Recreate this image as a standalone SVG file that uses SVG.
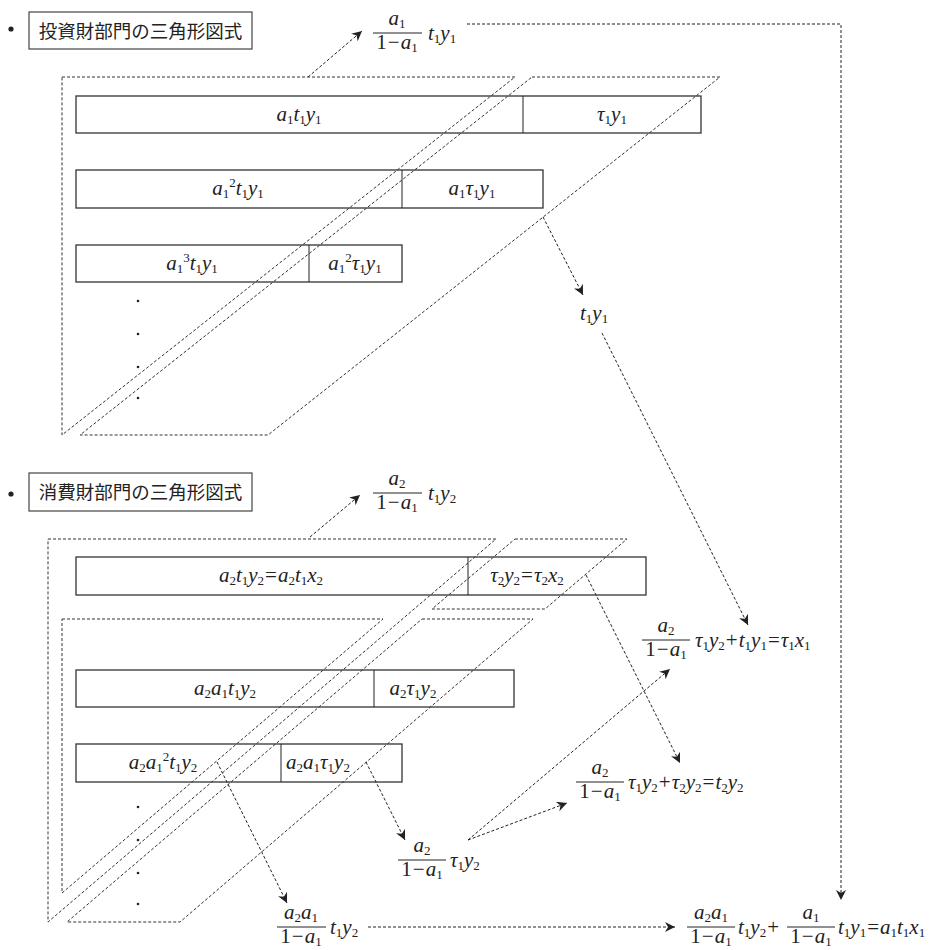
<svg xmlns="http://www.w3.org/2000/svg" width="936" height="950" viewBox="0 0 936 950">
<defs>
<style>
.bg{fill:#fff}
.m{font-family:"Liberation Serif","Times New Roman",serif;font-size:21px;font-style:italic;fill:#222}
.u{font-style:normal}
.sb{font-size:13px;font-style:normal}
.jp{font-family:"Noto Sans CJK JP","Noto Sans CJK SC",sans-serif;font-size:18.5px;fill:#222}
.box{fill:none;stroke:#333;stroke-width:1.3}
.tbox{fill:#fff;stroke:#444;stroke-width:1.2}
.dsh{fill:none;stroke:#333;stroke-width:1;stroke-dasharray:3 2}
.con{fill:none;stroke:#222;stroke-width:1;stroke-dasharray:3 2}
.fl{stroke:#222;stroke-width:1}
.dot{fill:#222}
</style>
<marker id="ah" viewBox="0 0 10 10" refX="10" refY="5" markerWidth="10" markerHeight="10" markerUnits="userSpaceOnUse" orient="auto">
<path d="M0,0 L10,5 L0,10 L3,5 z" fill="#222"/>
</marker>
</defs>
<rect class="bg" x="0" y="0" width="936" height="950"/>

<!-- Titles -->
<g id="title1">
<circle class="dot" cx="11" cy="29" r="2.6"/>
<rect class="tbox" x="29" y="12" width="223" height="37"/>
<text x="140.5" y="37.5" class="jp" text-anchor="middle">投資財部門の三角形図式</text>
</g>
<g id="title2">
<circle class="dot" cx="11" cy="494" r="2.6"/>
<rect class="tbox" x="29" y="473" width="223" height="38"/>
<text x="140.5" y="498.5" class="jp" text-anchor="middle">消費財部門の三角形図式</text>
</g>

<!-- Triangle / parallelogram schema (dashed) -->
<g id="schema">
<polygon class="dsh" points="62,77 515,77 62,435"/>
<polygon class="dsh" points="532,77 720,77 268,435 80,435"/>
<polygon class="dsh" points="48,539 496,539 48,922"/>
<polygon class="dsh" points="515,539 627,539 545,609 432,609"/>
<polygon class="dsh" points="62,619 383,619 62,893"/>
<polygon class="dsh" points="422,619 533,619 180,922 67,922"/>
</g>

<!-- Investment sector rows -->
<g id="row1">
<rect class="box" x="76" y="96" width="625" height="37"/>
<line class="fl" x1="523" y1="96" x2="523" y2="133" stroke-width="1.3"/>
<text x="299" y="121" class="m" text-anchor="middle"><tspan>a</tspan><tspan class="sb" dy="3">1</tspan><tspan dy="-3">t</tspan><tspan class="sb" dy="3">1</tspan><tspan dy="-3">y</tspan><tspan class="sb" dy="3">1</tspan></text>
<text x="612" y="121" class="m" text-anchor="middle"><tspan>τ</tspan><tspan class="sb" dy="3">1</tspan><tspan dy="-3">y</tspan><tspan class="sb" dy="3">1</tspan></text>
</g>
<g id="row2">
<rect class="box" x="76" y="170" width="467" height="38"/>
<line class="fl" x1="402" y1="170" x2="402" y2="208" stroke-width="1.3"/>
<text x="238" y="195" class="m" text-anchor="middle"><tspan>a</tspan><tspan class="sb" dy="3">1</tspan><tspan class="sb" dy="-11">2</tspan><tspan dy="8">t</tspan><tspan class="sb" dy="3">1</tspan><tspan dy="-3">y</tspan><tspan class="sb" dy="3">1</tspan></text>
<text x="472" y="195" class="m" text-anchor="middle"><tspan>a</tspan><tspan class="sb" dy="3">1</tspan><tspan dy="-3">τ</tspan><tspan class="sb" dy="3">1</tspan><tspan dy="-3">y</tspan><tspan class="sb" dy="3">1</tspan></text>
</g>
<g id="row3">
<rect class="box" x="76" y="245" width="326" height="37"/>
<line class="fl" x1="309" y1="245" x2="309" y2="282" stroke-width="1.3"/>
<text x="192" y="270" class="m" text-anchor="middle"><tspan>a</tspan><tspan class="sb" dy="3">1</tspan><tspan class="sb" dy="-11">3</tspan><tspan dy="8">t</tspan><tspan class="sb" dy="3">1</tspan><tspan dy="-3">y</tspan><tspan class="sb" dy="3">1</tspan></text>
<text x="355" y="270" class="m" text-anchor="middle"><tspan>a</tspan><tspan class="sb" dy="3">1</tspan><tspan class="sb" dy="-11">2</tspan><tspan dy="8">τ</tspan><tspan class="sb" dy="3">1</tspan><tspan dy="-3">y</tspan><tspan class="sb" dy="3">1</tspan></text>
</g>
<g id="dots1">
<circle class="dot" cx="138" cy="301" r="1.3"/>
<circle class="dot" cx="138" cy="334" r="1.3"/>
<circle class="dot" cx="138" cy="367" r="1.3"/>
<circle class="dot" cx="138" cy="398" r="1.3"/>
</g>

<!-- Consumption sector rows -->
<g id="row4">
<rect class="box" x="76" y="557" width="570" height="38"/>
<line class="fl" x1="468" y1="557" x2="468" y2="595" stroke-width="1.3"/>
<text x="271" y="582" class="m" text-anchor="middle"><tspan>a</tspan><tspan class="sb" dy="3">2</tspan><tspan dy="-3">t</tspan><tspan class="sb" dy="3">1</tspan><tspan dy="-3">y</tspan><tspan class="sb" dy="3">2</tspan><tspan class="u" dy="-3" dx="1">=</tspan><tspan dx="1">a</tspan><tspan class="sb" dy="3">2</tspan><tspan dy="-3">t</tspan><tspan class="sb" dy="3">1</tspan><tspan dy="-3">x</tspan><tspan class="sb" dy="3">2</tspan></text>
<text x="527" y="582" class="m" text-anchor="middle"><tspan>τ</tspan><tspan class="sb" dy="3">2</tspan><tspan dy="-3">y</tspan><tspan class="sb" dy="3">2</tspan><tspan class="u" dy="-3" dx="1">=</tspan><tspan dx="1">τ</tspan><tspan class="sb" dy="3">2</tspan><tspan dy="-3">x</tspan><tspan class="sb" dy="3">2</tspan></text>
</g>
<g id="row5">
<rect class="box" x="76" y="670" width="438" height="37"/>
<line class="fl" x1="374" y1="670" x2="374" y2="707" stroke-width="1.3"/>
<text x="225" y="695" class="m" text-anchor="middle"><tspan>a</tspan><tspan class="sb" dy="3">2</tspan><tspan dy="-3">a</tspan><tspan class="sb" dy="3">1</tspan><tspan dy="-3">t</tspan><tspan class="sb" dy="3">1</tspan><tspan dy="-3">y</tspan><tspan class="sb" dy="3">2</tspan></text>
<text x="413" y="695" class="m" text-anchor="middle"><tspan>a</tspan><tspan class="sb" dy="3">2</tspan><tspan dy="-3">τ</tspan><tspan class="sb" dy="3">1</tspan><tspan dy="-3">y</tspan><tspan class="sb" dy="3">2</tspan></text>
</g>
<g id="row6">
<rect class="box" x="76" y="744" width="326" height="38"/>
<line class="fl" x1="281" y1="744" x2="281" y2="782" stroke-width="1.3"/>
<text x="163" y="769" class="m" text-anchor="middle"><tspan>a</tspan><tspan class="sb" dy="3">2</tspan><tspan dy="-3">a</tspan><tspan class="sb" dy="3">1</tspan><tspan class="sb" dy="-11">2</tspan><tspan dy="8">t</tspan><tspan class="sb" dy="3">1</tspan><tspan dy="-3">y</tspan><tspan class="sb" dy="3">2</tspan></text>
<text x="318" y="769" class="m" text-anchor="middle"><tspan>a</tspan><tspan class="sb" dy="3">2</tspan><tspan dy="-3">a</tspan><tspan class="sb" dy="3">1</tspan><tspan dy="-3">τ</tspan><tspan class="sb" dy="3">1</tspan><tspan dy="-3">y</tspan><tspan class="sb" dy="3">2</tspan></text>
</g>
<g id="dots2">
<circle class="dot" cx="138" cy="807" r="1.3"/>
<circle class="dot" cx="138" cy="840" r="1.3"/>
<circle class="dot" cx="138" cy="873" r="1.3"/>
<circle class="dot" cx="138" cy="904" r="1.3"/>
</g>

<!-- Formula labels -->
<g id="f-top1">
<text x="397" y="25" class="m" text-anchor="middle"><tspan>a</tspan><tspan class="sb" dy="3">1</tspan></text>
<line class="fl" x1="373" y1="33" x2="422" y2="33"/>
<text x="397" y="49" class="m" text-anchor="middle"><tspan class="u">1</tspan><tspan class="u" dx="1">−</tspan><tspan dx="1">a</tspan><tspan class="sb" dy="3">1</tspan></text>
<text x="428" y="40" class="m"><tspan>t</tspan><tspan class="sb" dy="3">1</tspan><tspan dy="-3">y</tspan><tspan class="sb" dy="3">1</tspan></text>
</g>
<g id="f-top2">
<text x="397" y="485" class="m" text-anchor="middle"><tspan>a</tspan><tspan class="sb" dy="3">2</tspan></text>
<line class="fl" x1="373" y1="493" x2="422" y2="493"/>
<text x="397" y="509" class="m" text-anchor="middle"><tspan class="u">1</tspan><tspan class="u" dx="1">−</tspan><tspan dx="1">a</tspan><tspan class="sb" dy="3">1</tspan></text>
<text x="428" y="500" class="m"><tspan>t</tspan><tspan class="sb" dy="3">1</tspan><tspan dy="-3">y</tspan><tspan class="sb" dy="3">2</tspan></text>
</g>
<g id="f-t1y1">
<text x="580" y="320" class="m"><tspan>t</tspan><tspan class="sb" dy="3">1</tspan><tspan dy="-3">y</tspan><tspan class="sb" dy="3">1</tspan></text>
</g>
<g id="f-tau1x1">
<text x="666" y="632" class="m" text-anchor="middle"><tspan>a</tspan><tspan class="sb" dy="3">2</tspan></text>
<line class="fl" x1="642" y1="640" x2="690" y2="640"/>
<text x="666" y="656" class="m" text-anchor="middle"><tspan class="u">1</tspan><tspan class="u" dx="1">−</tspan><tspan dx="1">a</tspan><tspan class="sb" dy="3">1</tspan></text>
<text x="695" y="647" class="m"><tspan>τ</tspan><tspan class="sb" dy="3">1</tspan><tspan dy="-3">y</tspan><tspan class="sb" dy="3">2</tspan><tspan class="u" dy="-3" dx="1">+</tspan><tspan dx="1">t</tspan><tspan class="sb" dy="3">1</tspan><tspan dy="-3">y</tspan><tspan class="sb" dy="3">1</tspan><tspan class="u" dy="-3" dx="1">=</tspan><tspan dx="1">τ</tspan><tspan class="sb" dy="3">1</tspan><tspan dy="-3">x</tspan><tspan class="sb" dy="3">1</tspan></text>
</g>
<g id="f-t2y2">
<text x="600" y="774" class="m" text-anchor="middle"><tspan>a</tspan><tspan class="sb" dy="3">2</tspan></text>
<line class="fl" x1="576" y1="782" x2="624" y2="782"/>
<text x="600" y="798" class="m" text-anchor="middle"><tspan class="u">1</tspan><tspan class="u" dx="1">−</tspan><tspan dx="1">a</tspan><tspan class="sb" dy="3">1</tspan></text>
<text x="628" y="789" class="m"><tspan>τ</tspan><tspan class="sb" dy="3">1</tspan><tspan dy="-3">y</tspan><tspan class="sb" dy="3">2</tspan><tspan class="u" dy="-3" dx="1">+</tspan><tspan dx="1">τ</tspan><tspan class="sb" dy="3">2</tspan><tspan dy="-3">y</tspan><tspan class="sb" dy="3">2</tspan><tspan class="u" dy="-3" dx="1">=</tspan><tspan dx="1">t</tspan><tspan class="sb" dy="3">2</tspan><tspan dy="-3">y</tspan><tspan class="sb" dy="3">2</tspan></text>
</g>
<g id="f-tau1y2">
<text x="422" y="852" class="m" text-anchor="middle"><tspan>a</tspan><tspan class="sb" dy="3">2</tspan></text>
<line class="fl" x1="398" y1="860" x2="446" y2="860"/>
<text x="422" y="876" class="m" text-anchor="middle"><tspan class="u">1</tspan><tspan class="u" dx="1">−</tspan><tspan dx="1">a</tspan><tspan class="sb" dy="3">1</tspan></text>
<text x="450" y="867" class="m"><tspan>τ</tspan><tspan class="sb" dy="3">1</tspan><tspan dy="-3">y</tspan><tspan class="sb" dy="3">2</tspan></text>
</g>
<g id="f-a2a1">
<text x="301" y="919" class="m" text-anchor="middle"><tspan>a</tspan><tspan class="sb" dy="3">2</tspan><tspan dy="-3">a</tspan><tspan class="sb" dy="3">1</tspan></text>
<line class="fl" x1="277" y1="927" x2="326" y2="927"/>
<text x="301" y="943" class="m" text-anchor="middle"><tspan class="u">1</tspan><tspan class="u" dx="1">−</tspan><tspan dx="1">a</tspan><tspan class="sb" dy="3">1</tspan></text>
<text x="330" y="934" class="m"><tspan>t</tspan><tspan class="sb" dy="3">1</tspan><tspan dy="-3">y</tspan><tspan class="sb" dy="3">2</tspan></text>
</g>
<g id="f-total">
<text x="711" y="919" class="m" text-anchor="middle"><tspan>a</tspan><tspan class="sb" dy="3">2</tspan><tspan dy="-3">a</tspan><tspan class="sb" dy="3">1</tspan></text>
<line class="fl" x1="687" y1="927" x2="735" y2="927"/>
<text x="711" y="943" class="m" text-anchor="middle"><tspan class="u">1</tspan><tspan class="u" dx="1">−</tspan><tspan dx="1">a</tspan><tspan class="sb" dy="3">1</tspan></text>
<text x="738" y="934" class="m"><tspan>t</tspan><tspan class="sb" dy="3">1</tspan><tspan dy="-3">y</tspan><tspan class="sb" dy="3">2</tspan><tspan class="u" dy="-3" dx="1">+</tspan></text>
<text x="811" y="919" class="m" text-anchor="middle"><tspan>a</tspan><tspan class="sb" dy="3">1</tspan></text>
<line class="fl" x1="787" y1="927" x2="835" y2="927"/>
<text x="811" y="943" class="m" text-anchor="middle"><tspan class="u">1</tspan><tspan class="u" dx="1">−</tspan><tspan dx="1">a</tspan><tspan class="sb" dy="3">1</tspan></text>
<text x="838" y="934" class="m"><tspan>t</tspan><tspan class="sb" dy="3">1</tspan><tspan dy="-3">y</tspan><tspan class="sb" dy="3">1</tspan><tspan class="u" dy="-3" dx="1">=</tspan><tspan dx="1">a</tspan><tspan class="sb" dy="3">1</tspan><tspan dy="-3">t</tspan><tspan class="sb" dy="3">1</tspan><tspan dy="-3">x</tspan><tspan class="sb" dy="3">1</tspan></text>
</g>

<!-- Connectors -->
<g id="connectors">
<line class="con" x1="308" y1="77" x2="362" y2="31" marker-end="url(#ah)"/>
<polyline class="con" points="467,24 841,24 841,900" marker-end="url(#ah)"/>
<line class="con" x1="543" y1="217" x2="583" y2="295" marker-end="url(#ah)"/>
<line class="con" x1="602" y1="333" x2="748" y2="625" marker-end="url(#ah)"/>
<line class="con" x1="310" y1="537" x2="360" y2="495" marker-end="url(#ah)"/>
<line class="con" x1="586" y1="575" x2="680" y2="763" marker-end="url(#ah)"/>
<line class="con" x1="217" y1="762" x2="287" y2="903" marker-end="url(#ah)"/>
<line class="con" x1="366" y1="762" x2="405" y2="840" marker-end="url(#ah)"/>
<line class="con" x1="468" y1="840" x2="567" y2="803" marker-end="url(#ah)"/>
<line class="con" x1="468" y1="840" x2="670" y2="669" marker-end="url(#ah)"/>
<line class="con" x1="368" y1="927" x2="675" y2="927" marker-end="url(#ah)"/>
</g>
</svg>
